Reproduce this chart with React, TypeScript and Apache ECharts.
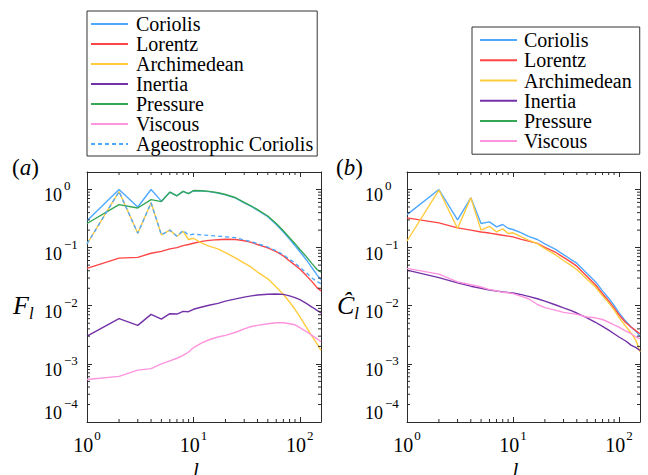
import React, { useEffect, useRef } from 'react';
import * as echarts from 'echarts';

// Spherical harmonic degree l
const L = [1, 2, 3, 4, 5, 6, 7, 8, 9, 10, 12, 14, 17, 20, 25, 30, 35, 40, 50, 60, 70, 80, 90, 100, 115, 130, 145, 158];

// Panel (a): F_l
const aCoriolis = [0.29, 1.0, 0.5, 1.0, 0.63, 0.9, 0.78, 0.93, 0.85, 0.95, 0.94, 0.92, 0.87, 0.81, 0.71, 0.59, 0.51, 0.44, 0.34, 0.25, 0.185, 0.14, 0.108, 0.085, 0.062, 0.045, 0.034, 0.028];
const aLorentz = [0.044, 0.066, 0.068, 0.08, 0.086, 0.095, 0.1, 0.108, 0.113, 0.119, 0.128, 0.133, 0.137, 0.139, 0.138, 0.131, 0.123, 0.113, 0.099, 0.085, 0.072, 0.059, 0.05, 0.043, 0.033, 0.026, 0.0205, 0.018];
const aArchimedean = [0.116, 0.92, 0.177, 0.59, 0.166, 0.2, 0.157, 0.19, 0.138, 0.145, 0.12, 0.106, 0.095, 0.082, 0.066, 0.054, 0.046, 0.038, 0.029, 0.021, 0.0156, 0.0116, 0.0087, 0.0065, 0.0043, 0.003, 0.0022, 0.0017];
const aInertia = [0.003, 0.006, 0.0046, 0.0071, 0.0059, 0.0073, 0.0072, 0.008, 0.0079, 0.0087, 0.0095, 0.0102, 0.011, 0.012, 0.0131, 0.0141, 0.0148, 0.0153, 0.0158, 0.0159, 0.0157, 0.0148, 0.0138, 0.0127, 0.011, 0.0095, 0.0083, 0.0075];
const aPressure = [0.26, 0.55, 0.48, 0.67, 0.62, 0.9, 0.78, 0.93, 0.85, 0.96, 0.95, 0.93, 0.88, 0.82, 0.72, 0.6, 0.52, 0.45, 0.35, 0.26, 0.195, 0.148, 0.117, 0.093, 0.07, 0.053, 0.042, 0.038];
const aViscous = [0.00054, 0.00061, 0.00078, 0.00083, 0.001, 0.00113, 0.00125, 0.0014, 0.0016, 0.0019, 0.0023, 0.0026, 0.0029, 0.0031, 0.0035, 0.004, 0.0044, 0.0046, 0.0049, 0.0051, 0.0051, 0.0049, 0.0047, 0.0042, 0.0036, 0.0031, 0.0027, 0.0024];
const aAgeostrophic = [0.116, 0.92, 0.177, 0.59, 0.166, 0.2, 0.157, 0.197, 0.165, 0.17, 0.165, 0.162, 0.158, 0.154, 0.148, 0.135, 0.127, 0.117, 0.102, 0.088, 0.075, 0.063, 0.054, 0.046, 0.037, 0.03, 0.026, 0.024];

// Panel (b): C_l hat
const bCoriolis = [0.37, 1.0, 0.3, 0.72, 0.26, 0.277, 0.227, 0.25, 0.215, 0.205, 0.18, 0.156, 0.138, 0.116, 0.094, 0.076, 0.063, 0.054, 0.036, 0.026, 0.018, 0.0135, 0.0101, 0.0076, 0.0055, 0.0043, 0.0036, 0.003];
const bLorentz = [0.325, 0.266, 0.219, 0.2, 0.186, 0.178, 0.17, 0.163, 0.158, 0.153, 0.139, 0.129, 0.118, 0.101, 0.084, 0.068, 0.057, 0.048, 0.032, 0.023, 0.0161, 0.0121, 0.0091, 0.007, 0.0052, 0.0043, 0.0037, 0.0033];
const bArchimedean = [0.13, 0.98, 0.213, 0.72, 0.2, 0.233, 0.186, 0.21, 0.175, 0.18, 0.153, 0.135, 0.117, 0.096, 0.076, 0.06, 0.05, 0.042, 0.0286, 0.021, 0.0148, 0.0112, 0.0085, 0.0063, 0.0045, 0.0034, 0.0025, 0.0016];
const bInertia = [0.041, 0.0305, 0.0247, 0.0217, 0.02, 0.0187, 0.0179, 0.0173, 0.0169, 0.0166, 0.0155, 0.0145, 0.0132, 0.012, 0.0104, 0.0092, 0.0083, 0.0075, 0.0062, 0.0052, 0.0044, 0.0038, 0.0033, 0.0029, 0.0025, 0.0021, 0.0019, 0.0017];
const bViscous = [0.044, 0.035, 0.0257, 0.023, 0.021, 0.019, 0.018, 0.017, 0.0167, 0.0162, 0.0145, 0.0132, 0.0105, 0.0093, 0.0084, 0.0077, 0.0074, 0.0071, 0.0064, 0.0062, 0.0058, 0.0052, 0.0047, 0.0043, 0.0037, 0.0033, 0.0029, 0.0027];

const legendA = ['Coriolis', 'Lorentz', 'Archimedean', 'Inertia', 'Pressure', 'Viscous', 'Ageostrophic Coriolis'];
const legendB = ['Coriolis', 'Lorentz', 'Archimedean', 'Inertia', 'Pressure', 'Viscous'];

const X_MIN = 1;
const X_MAX = 158;
const Y_MIN = 1e-4;
const Y_MAX = 2;

const SERIF = "'Liberation Serif', 'Times New Roman', serif";
const AX = '#2b2b2b';
const COLORS: Record<string, string> = {
  Coriolis: '#4fa8ff',
  Lorentz: '#ff4545',
  Archimedean: '#ffcb3d',
  Inertia: '#7432a8',
  Pressure: '#35a653',
  Viscous: '#ff94de',
  'Ageostrophic Coriolis': '#4fa8ff',
};

const pairs = (vals: number[]) => L.map((l, i) => [l, vals[i]]);

const minorX: number[] = [];
[1, 10, 100].forEach((d) => {
  for (let k = 2; k <= 9; k++) if (d * k < X_MAX) minorX.push(d * k);
});
const minorY: number[] = [];
[-4, -3, -2, -1, 0].forEach((e) => {
  for (let k = 2; k <= 9; k++) {
    const v = k * Math.pow(10, e);
    if (v < Y_MAX) minorY.push(v);
  }
});

const tickFmt = (v: number) => {
  const lg = Math.log10(v);
  const e = Math.round(lg);
  if (Math.abs(lg - e) > 1e-6) return '';
  const s = e < 0 ? '\u2212' + -e : String(e);
  return '{b|10}{s|' + s + '}';
};

const xRich = {
  b: { fontSize: 20, lineHeight: 26, verticalAlign: 'bottom', fontFamily: SERIF, color: '#000' },
  s: { fontSize: 13, lineHeight: 13, verticalAlign: 'top', fontFamily: SERIF, color: '#000', padding: [0, 0, 0, 1] },
};
const yRich = {
  b: { fontSize: 18, lineHeight: 25, verticalAlign: 'bottom', fontFamily: SERIF, color: '#000' },
  s: { fontSize: 13, lineHeight: 13, verticalAlign: 'top', fontFamily: SERIF, color: '#000', padding: [0, 0, 0, 2] },
};

function axesFor(g: number, yLabelMargin: number) {
  const common = {
    gridIndex: g,
    type: 'log',
    logBase: 10,
    splitLine: { show: false },
    minorTick: { show: false },
    axisLine: { show: true, onZero: false, lineStyle: { color: AX, width: 1 } },
    axisTick: { show: true, inside: true, length: 5, lineStyle: { color: AX, width: 1 } },
  };
  const xAxes = [
    {
      ...common,
      min: X_MIN,
      max: X_MAX,
      position: 'bottom',
      axisLabel: { formatter: tickFmt, rich: xRich, margin: 7, showMinLabel: true, showMaxLabel: true },
      name: 'l',
      nameLocation: 'middle',
      nameGap: 36,
      nameTextStyle: { fontFamily: SERIF, fontStyle: 'italic', fontSize: 21, color: '#000', padding: [0, 16, 0, 0] },
    },
    { ...common, min: X_MIN, max: X_MAX, position: 'top', axisLabel: { show: false } },
  ];
  const yAxes = [
    {
      ...common,
      min: Y_MIN,
      max: Y_MAX,
      position: 'left',
      axisLabel: {
        formatter: tickFmt,
        rich: yRich,
        margin: yLabelMargin,
        align: 'left',
        padding: [5, 0, 0, 0],
        showMinLabel: true,
        verticalAlignMinLabel: 'bottom',
      },
    },
    { ...common, min: Y_MIN, max: Y_MAX, position: 'right', axisLabel: { show: false } },
  ];
  return { xAxes, yAxes };
}

function lineSeries(name: string, vals: number[], g: number, dashed = false) {
  return {
    type: 'line',
    name,
    xAxisIndex: g * 2,
    yAxisIndex: g * 2,
    data: pairs(vals),
    symbol: 'none',
    showSymbol: false,
    smooth: false,
    color: COLORS[name],
    lineStyle: { color: COLORS[name], width: 1.4, type: dashed ? [4, 3] : 'solid' },
    emphasis: { disabled: true },
    z: 3,
  };
}

function minorTickSeries(g: number) {
  return [
    {
      type: 'custom',
      name: 'minorX' + g,
      xAxisIndex: g * 2,
      yAxisIndex: g * 2,
      silent: true,
      z: 5,
      data: minorX.map((v) => [v, 1]),
      renderItem: (params: any, api: any) => {
        const cs = params.coordSys;
        const px = api.coord([api.value(0), 1])[0];
        const st = { stroke: AX, lineWidth: 1 };
        return {
          type: 'group',
          children: [
            { type: 'line', shape: { x1: px, y1: cs.y + cs.height, x2: px, y2: cs.y + cs.height - 3 }, style: st },
            { type: 'line', shape: { x1: px, y1: cs.y, x2: px, y2: cs.y + 3 }, style: st },
          ],
        };
      },
    },
    {
      type: 'custom',
      name: 'minorY' + g,
      xAxisIndex: g * 2,
      yAxisIndex: g * 2,
      silent: true,
      z: 5,
      data: minorY.map((v) => [1, v]),
      renderItem: (params: any, api: any) => {
        const cs = params.coordSys;
        const py = api.coord([1, api.value(1)])[1];
        const st = { stroke: AX, lineWidth: 1 };
        return {
          type: 'group',
          children: [
            { type: 'line', shape: { x1: cs.x, y1: py, x2: cs.x + 3, y2: py }, style: st },
            { type: 'line', shape: { x1: cs.x + cs.width, y1: py, x2: cs.x + cs.width - 3, y2: py }, style: st },
          ],
        };
      },
    },
  ];
}

export default function App() {
  const ref = useRef<HTMLDivElement>(null);

  useEffect(() => {
    if (!ref.current) return;
    const chart = echarts.init(ref.current, undefined, { renderer: 'svg' });
    const a = axesFor(0, 43);
    const b = axesFor(1, 42);

    const legendCommon = {
      orient: 'vertical',
      itemGap: 0,
      itemWidth: 37,
      itemHeight: 14,
      borderColor: '#333',
      borderWidth: 1,
      selectedMode: false,
      itemStyle: { opacity: 0, borderWidth: 0 },
    };
    const legendText = { fontFamily: SERIF, fontSize: 20, color: '#000' };

    const option: any = {
      animation: false,
      backgroundColor: '#fff',
      textStyle: { fontFamily: SERIF },
      grid: [
        { left: 87, top: 172, width: 234, height: 250, outerBoundsMode: 'none', containLabel: false },
        { left: 407, top: 172, width: 233, height: 250, outerBoundsMode: 'none', containLabel: false },
      ],
      xAxis: [...a.xAxes, ...b.xAxes],
      yAxis: [...a.yAxes, ...b.yAxes],
      legend: [
        {
          ...legendCommon,
          data: legendA,
          left: 87,
          top: 11,
          padding: [3, 4, 2, 3],
          textStyle: { ...legendText, lineHeight: 19.7, padding: [0, 0, 0, 3] },
        },
        {
          ...legendCommon,
          data: legendB,
          left: 472,
          top: 27,
          padding: [3, 8, 3, 7],
          textStyle: { ...legendText, lineHeight: 20.2, padding: [0, 0, 0, 2] },
        },
      ],
      graphic: [
        {
          type: 'text',
          x: 12,
          y: 156,
          style: {
            text: '{p|(}{i|a}{p|)}',
            verticalAlign: 'top',
            rich: {
              p: { fontFamily: SERIF, fontSize: 23, color: '#000' },
              i: { fontFamily: SERIF, fontSize: 23, fontStyle: 'italic', color: '#000' },
            },
          },
        },
        {
          type: 'text',
          x: 336,
          y: 156,
          style: {
            text: '{p|(}{i|b}{p|)}',
            verticalAlign: 'top',
            rich: {
              p: { fontFamily: SERIF, fontSize: 23, color: '#000' },
              i: { fontFamily: SERIF, fontSize: 23, fontStyle: 'italic', color: '#000' },
            },
          },
        },
        {
          type: 'text',
          x: 13,
          y: 292,
          style: {
            text: '{f|F}{s|l}',
            verticalAlign: 'top',
            rich: {
              f: { fontFamily: SERIF, fontSize: 26, fontStyle: 'italic', lineHeight: 30, verticalAlign: 'top', color: '#000' },
              s: { fontFamily: SERIF, fontSize: 17, fontStyle: 'italic', lineHeight: 14, verticalAlign: 'bottom', color: '#000' },
            },
          },
        },
        {
          type: 'text',
          x: 337,
          y: 292,
          style: {
            text: '{f|\u0108}{s|l}',
            verticalAlign: 'top',
            rich: {
              f: { fontFamily: SERIF, fontSize: 26, fontStyle: 'italic', lineHeight: 30, verticalAlign: 'top', color: '#000' },
              s: { fontFamily: SERIF, fontSize: 17, fontStyle: 'italic', lineHeight: 14, verticalAlign: 'bottom', color: '#000' },
            },
          },
        },
      ],
      series: [
        lineSeries('Coriolis', aCoriolis, 0),
        lineSeries('Lorentz', aLorentz, 0),
        lineSeries('Archimedean', aArchimedean, 0),
        lineSeries('Inertia', aInertia, 0),
        lineSeries('Pressure', aPressure, 0),
        lineSeries('Viscous', aViscous, 0),
        lineSeries('Ageostrophic Coriolis', aAgeostrophic, 0, true),
        lineSeries('Coriolis', bCoriolis, 1),
        lineSeries('Lorentz', bLorentz, 1),
        lineSeries('Archimedean', bArchimedean, 1),
        lineSeries('Inertia', bInertia, 1),
        lineSeries('Viscous', bViscous, 1),
        ...minorTickSeries(0),
        ...minorTickSeries(1),
      ],
    };
    chart.setOption(option);
    return () => chart.dispose();
  }, []);

  return (
    <div
      ref={ref}
      style={{ position: 'fixed', left: 0, top: 0, width: 648, height: 475, background: '#fff' }}
    />
  );
}
